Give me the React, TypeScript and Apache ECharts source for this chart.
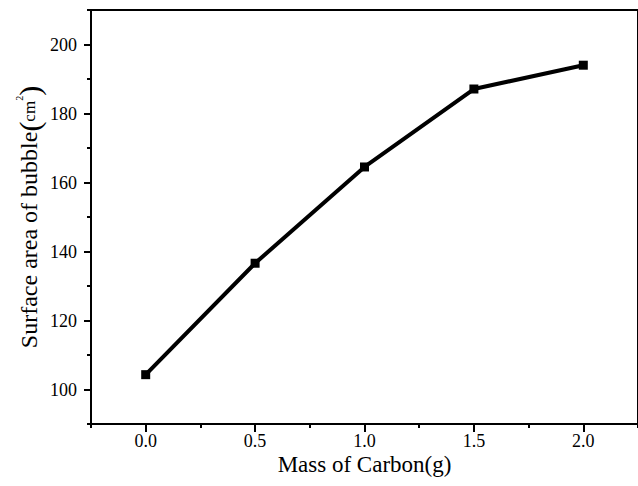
import React, { useEffect, useRef } from "react";
import * as echarts from "echarts";

const massCarbon = [0, 0.5, 1.0, 1.5, 2.0];
const surfaceArea = [104.3, 136.6, 164.5, 187.1, 194.0];
const xMajorTicks = [0, 0.5, 1.0, 1.5, 2.0];
const xMinorTicks = [-0.25, 0.25, 0.75, 1.25, 1.75, 2.25];
const yMajorTicks = [100, 120, 140, 160, 180, 200];
const yMinorTicks = [90, 110, 130, 150, 170, 190, 210];

const FONT = "Liberation Serif";

export default function App() {
  const ref = useRef<HTMLDivElement>(null);
  useEffect(() => {
    if (!ref.current) return;
    const chart = echarts.init(ref.current, null, { renderer: "svg" });
    const xMin = -0.25, xMax = 2.25, yMin = 90, yMax = 210;
    chart.setOption({
      animation: false,
      backgroundColor: "#fff",
      textStyle: { fontFamily: FONT },
      grid: {
        left: 91,
        top: 10,
        right: -8,
        bottom: 62,
        show: true,
        borderColor: "#000",
        borderWidth: 2,
        backgroundColor: "transparent",
      },
      xAxis: [
        {
          type: "value",
          min: xMin,
          max: xMax,
          position: "bottom",
          name: "Mass of Carbon(g)",
          nameLocation: "middle",
          nameGap: 29,
          nameMoveOverlap: false,
          nameTextStyle: { fontFamily: FONT, fontSize: 23, color: "#000" },
          axisLine: { show: true, onZero: false, lineStyle: { color: "#000", width: 2 } },
          axisTick: { show: true, inside: false, length: 8, customValues: xMajorTicks, lineStyle: { color: "#000", width: 2 } },
          axisLabel: {
            customValues: xMajorTicks,
            margin: 8,
            fontFamily: FONT,
            fontSize: 18,
            color: "#000",
            formatter: (v: number) => v.toFixed(1),
          },
          splitLine: { show: false },
        },
        {
          type: "value",
          min: xMin,
          max: xMax,
          position: "bottom",
          axisLine: { show: false, onZero: false },
          axisTick: { show: true, inside: false, length: 4, customValues: xMinorTicks, lineStyle: { color: "#000", width: 2 } },
          axisLabel: { show: false },
          splitLine: { show: false },
        },
      ],
      yAxis: [
        {
          type: "value",
          min: yMin,
          max: yMax,
          position: "left",
          name: "{a|Surface area of bubble}{p|(}{b|cm}{s|2}{p|)}",
          nameLocation: "middle",
          nameGap: 47,
          nameMoveOverlap: false,
          nameRotate: 90,
          nameTextStyle: {
            fontFamily: FONT,
            fontSize: 24,
            color: "#000",
            rich: {
              a: { fontFamily: FONT, fontSize: 24, color: "#000" },
              p: { fontFamily: FONT, fontSize: 30, color: "#000" },
              b: { fontFamily: FONT, fontSize: 17, color: "#000" },
              s: { fontFamily: FONT, fontSize: 10, color: "#000", verticalAlign: "top", padding: [0, 0, 4, 0] },
            },
          },
          axisLine: { show: true, onZero: false, lineStyle: { color: "#000", width: 2 } },
          axisTick: { show: true, inside: false, length: 7, customValues: yMajorTicks, lineStyle: { color: "#000", width: 2 } },
          axisLabel: {
            customValues: yMajorTicks,
            margin: 14,
            fontFamily: FONT,
            fontSize: 18,
            color: "#000",
          },
          splitLine: { show: false },
        },
        {
          type: "value",
          min: yMin,
          max: yMax,
          position: "left",
          axisLine: { show: false, onZero: false },
          axisTick: { show: true, inside: false, length: 4, customValues: yMinorTicks, lineStyle: { color: "#000", width: 2 } },
          axisLabel: { show: false },
          splitLine: { show: false },
        },
      ],
      series: [
        {
          type: "line",
          xAxisIndex: 0,
          yAxisIndex: 0,
          data: massCarbon.map((x, i) => [x, surfaceArea[i]]),
          symbol: "rect",
          symbolSize: 9,
          lineStyle: { color: "#000", width: 4 },
          itemStyle: { color: "#000" },
        },
      ],
    });
    return () => chart.dispose();
  }, []);
  return (
    <div
      ref={ref}
      style={{ position: "fixed", left: 0, top: 0, width: 638, height: 486 }}
    />
  );
}
